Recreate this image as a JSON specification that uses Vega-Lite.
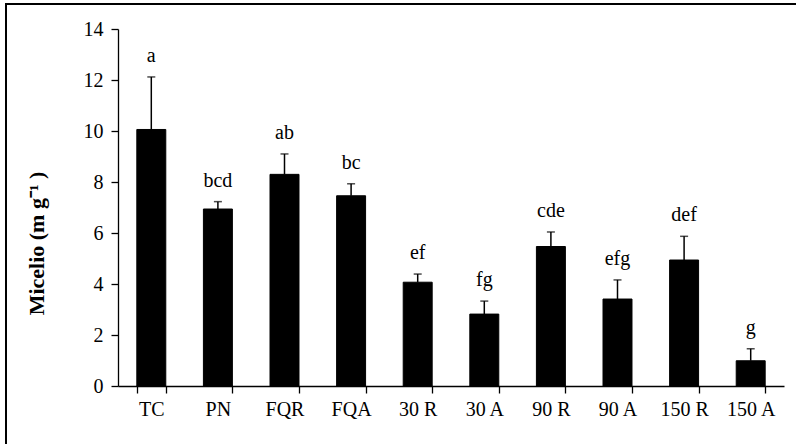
{
  "$schema": "https://vega.github.io/schema/vega-lite/v6.json",
  "autosize": {"type": "none"},
  "padding": {"left": 6, "top": 4, "right": 0, "bottom": 0},
  "width": 793,
  "height": 443,
  "background": "white",
  "config": {
    "font": "Times New Roman",
    "view": {"stroke": "black", "strokeWidth": 2},
    "axis": {
      "grid": false,
      "domainColor": "black",
      "tickColor": "black",
      "labelColor": "black",
      "titleColor": "black",
      "domainWidth": 1.3,
      "tickWidth": 1.3,
      "labelFont": "Times New Roman",
      "titleFont": "Times New Roman"
    },
    "text": {"font": "Times New Roman"}
  },
  "data": {
    "values": [
      {"trat": "TC", "mean": 10.06, "upper": 12.12, "grupo": "a"},
      {"trat": "PN", "mean": 6.94, "upper": 7.23, "grupo": "bcd"},
      {"trat": "FQR", "mean": 8.30, "upper": 9.10, "grupo": "ab"},
      {"trat": "FQA", "mean": 7.46, "upper": 7.93, "grupo": "bc"},
      {"trat": "30 R", "mean": 4.07, "upper": 4.39, "grupo": "ef"},
      {"trat": "30 A", "mean": 2.82, "upper": 3.33, "grupo": "fg"},
      {"trat": "90 R", "mean": 5.47, "upper": 6.04, "grupo": "cde"},
      {"trat": "90 A", "mean": 3.41, "upper": 4.16, "grupo": "efg"},
      {"trat": "150 R", "mean": 4.94, "upper": 5.87, "grupo": "def"},
      {"trat": "150 A", "mean": 0.99, "upper": 1.46, "grupo": "g"}
    ]
  },
  "encoding": {
    "x": {
      "field": "trat",
      "type": "nominal",
      "sort": null,
      "scale": {"range": [112, 778], "paddingInner": 0.565, "paddingOuter": 0.2825},
      "axis": {
        "title": null,
        "orient": "bottom",
        "offset": -61,
        "labelAngle": 0,
        "labelFontSize": 20,
        "labelPadding": 6,
        "tickSize": 7,
        "tickBand": "extent"
      }
    },
    "y": {
      "field": "mean",
      "type": "quantitative",
      "title": "Micelio (m g⁻¹ )",
      "scale": {"domain": [0, 14], "range": [382, 25], "nice": false},
      "axis": {
        "offset": -112,
        "values": [0, 2, 4, 6, 8, 10, 12, 14],
        "labelFontSize": 20,
        "labelPadding": 8,
        "tickSize": 7,
        "titleFontSize": 22,
        "titleFontWeight": "bold",
        "titleX": -75,
        "titleY": 239,
        "titleAngle": -90,
        "titleAlign": "center",
        "titleBaseline": "alphabetic"
      }
    }
  },
  "layer": [
    {
      "mark": {"type": "bar", "color": "black", "stroke": "black", "strokeWidth": 1}
    },
    {
      "mark": {"type": "rule", "color": "black", "strokeWidth": 1.5},
      "encoding": {
        "y2": {"field": "upper"}
      }
    },
    {
      "mark": {"type": "tick", "color": "black", "thickness": 1.5, "size": 8, "orient": "horizontal"},
      "encoding": {
        "y": {"field": "upper", "type": "quantitative", "title": "Micelio (m g⁻¹ )"}
      }
    },
    {
      "mark": {"type": "text", "font": "Times New Roman", "fontSize": 20, "baseline": "alphabetic", "dy": -15, "color": "black"},
      "encoding": {
        "y": {"field": "upper", "type": "quantitative", "title": "Micelio (m g⁻¹ )"},
        "text": {"field": "grupo"}
      }
    }
  ]
}
